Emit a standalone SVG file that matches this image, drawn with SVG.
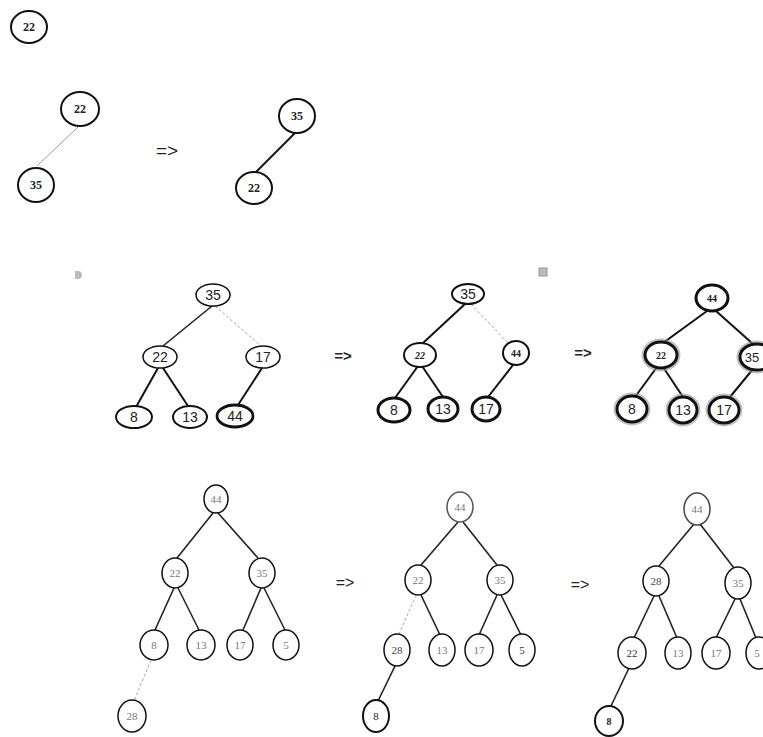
<svg xmlns="http://www.w3.org/2000/svg" width="763" height="737" viewBox="0 0 763 737">
<style>
.n{fill:#fff;stroke:#111;stroke-width:2}
.n15{fill:#fff;stroke:#111;stroke-width:1.5}
.n3{fill:#fff;stroke:#111;stroke-width:3}
.halo{fill:none;stroke:#999;stroke-width:7;opacity:0.6}
.e{stroke:#111;stroke-width:2;fill:none}
.e15{stroke:#222;stroke-width:1.6;fill:none}
.ef{stroke:#999;stroke-width:1;fill:none}
.ed{stroke:#aaa;stroke-width:1;fill:none;stroke-dasharray:3 2}
.ts{font-family:"Liberation Serif",serif;font-size:12px;font-weight:bold;fill:#222;text-anchor:middle;dominant-baseline:central}
.tm{font-family:"Liberation Sans",sans-serif;font-size:14px;fill:#222;text-anchor:middle;dominant-baseline:central}
.tb{font-family:"Liberation Serif",serif;font-size:10px;font-weight:bold;fill:#222;text-anchor:middle;dominant-baseline:central}
.tf{font-family:"Liberation Serif",serif;font-size:11px;fill:#777;text-anchor:middle;dominant-baseline:central}
.ar{font-family:"Liberation Sans",sans-serif;font-size:17px;font-weight:bold;fill:#222;text-anchor:middle;dominant-baseline:central}
</style>

<!-- artifacts -->
<path d="M75 271 h3 a4 4 0 0 1 0 8 h-3 z" fill="#bbb"/>
<rect x="539" y="268" width="8" height="8" fill="#bbb" stroke="#999" stroke-width="1"/>

<g id="connectors">
  <!-- top -->
  <line class="ef" x1="78" y1="127" x2="37" y2="166"/>
  <line class="e" x1="295" y1="133" x2="256" y2="172"/>
  <!-- middle tree 1 -->
  <line class="e15" x1="212" y1="306" x2="163" y2="346"/>
  <line class="ed" x1="215" y1="306" x2="261" y2="346"/>
  <line class="e" x1="158" y1="368" x2="136" y2="407"/>
  <line class="e" x1="163" y1="368" x2="188" y2="406"/>
  <line class="e" x1="262" y1="368" x2="238" y2="405"/>
  <!-- middle tree 2 -->
  <line class="e" x1="465" y1="304" x2="423" y2="343"/>
  <line class="ed" x1="471" y1="304" x2="507" y2="342"/>
  <line class="e" x1="418" y1="366" x2="395" y2="398"/>
  <line class="e" x1="422" y1="366" x2="443" y2="397"/>
  <line class="e" x1="513" y1="365" x2="488" y2="397"/>
  <!-- middle tree 3 -->
  <line class="e" x1="707" y1="311" x2="663" y2="343"/>
  <line class="e" x1="716" y1="311" x2="753" y2="344"/>
  <line class="e" x1="657" y1="367" x2="635" y2="397"/>
  <line class="e" x1="663" y1="367" x2="683" y2="397"/>
  <line class="e" x1="753" y1="369" x2="730" y2="397"/>
  <!-- bottom tree 1 -->
  <line class="e15" x1="213" y1="513" x2="177" y2="558"/>
  <line class="e15" x1="218" y1="513" x2="258" y2="558"/>
  <line class="e15" x1="174" y1="588" x2="155" y2="630"/>
  <line class="e15" x1="178" y1="588" x2="199" y2="630"/>
  <line class="e15" x1="261" y1="588" x2="243" y2="630"/>
  <line class="e15" x1="264" y1="588" x2="285" y2="630"/>
  <line class="ed" x1="151" y1="660" x2="134" y2="701"/>
  <!-- bottom tree 2 -->
  <line class="e15" x1="458" y1="522" x2="421" y2="565"/>
  <line class="e15" x1="463" y1="522" x2="497" y2="565"/>
  <line class="ed" x1="416" y1="595" x2="399" y2="634"/>
  <line class="e15" x1="421" y1="595" x2="440" y2="635"/>
  <line class="e15" x1="497" y1="595" x2="479" y2="635"/>
  <line class="e15" x1="501" y1="595" x2="521" y2="635"/>
  <line class="e15" x1="395" y1="666" x2="378" y2="701"/>
  <!-- bottom tree 3 -->
  <line class="e15" x1="694" y1="524" x2="659" y2="566"/>
  <line class="e15" x1="700" y1="524" x2="734" y2="568"/>
  <line class="e15" x1="654" y1="596" x2="634" y2="638"/>
  <line class="e15" x1="659" y1="596" x2="677" y2="638"/>
  <line class="e15" x1="735" y1="599" x2="716" y2="638"/>
  <line class="e15" x1="740" y1="599" x2="756" y2="638"/>
  <line class="e15" x1="629" y1="668" x2="611" y2="706"/>
</g>

<!-- arrows => -->
<text class="ar" x="167" y="150" style="font-size:19px;font-weight:normal">=&gt;</text>
<text class="ar" x="343" y="355" style="font-size:15px">=&gt;</text>
<text class="ar" x="583" y="352" style="font-size:15px">=&gt;</text>
<text class="ar" x="345" y="582" style="font-size:16px;font-weight:normal">=&gt;</text>
<text class="ar" x="580" y="584" style="font-size:16px;font-weight:normal">=&gt;</text>

<!-- top nodes -->
<g id="t0-22"><ellipse class="n" cx="29" cy="27" rx="18" ry="16"/><text class="ts" x="29" y="27">22</text></g>
<g id="t1-22"><ellipse class="n" cx="80" cy="109" rx="19" ry="17"/><text class="ts" x="80" y="109">22</text></g>
<g id="t1-35"><ellipse class="n" cx="36" cy="185" rx="18" ry="17"/><text class="ts" x="36" y="185">35</text></g>
<g id="t2-35"><ellipse class="n" cx="297" cy="116" rx="18" ry="17"/><text class="ts" x="297" y="116">35</text></g>
<g id="t2-22"><ellipse class="n" cx="254" cy="188" rx="18" ry="16"/><text class="ts" x="254" y="188">22</text></g>

<!-- middle tree 1 -->
<g id="m1-35"><ellipse class="n15" cx="213" cy="295" rx="17" ry="11"/><text class="tm" x="213" y="295">35</text></g>
<g id="m1-22"><ellipse class="n15" cx="160" cy="357" rx="17" ry="11"/><text class="tm" x="160" y="357">22</text></g>
<g id="m1-17"><ellipse class="n15" cx="263" cy="357" rx="17" ry="11"/><text class="tm" x="263" y="357">17</text></g>
<g id="m1-8"><ellipse class="n" cx="134" cy="417" rx="18" ry="11"/><text class="tm" x="134" y="417">8</text></g>
<g id="m1-13"><ellipse class="n" cx="190" cy="417" rx="17" ry="11"/><text class="tm" x="190" y="417">13</text></g>
<g id="m1-44"><ellipse class="n" style="stroke-width:2.8" cx="235" cy="416" rx="18" ry="11"/><text class="tm" x="235" y="416">44</text></g>

<!-- middle tree 2 -->
<g id="m2-35"><ellipse class="n" cx="468" cy="294" rx="16" ry="10"/><text class="tm" x="468" y="294">35</text></g>
<g id="m2-22"><ellipse class="n" cx="420" cy="355" rx="16" ry="12"/><text class="tb" x="420" y="355" style="font-style:italic">22</text></g>
<g id="m2-44"><ellipse class="n" cx="516" cy="353" rx="13" ry="12"/><text class="tb" x="516" y="353">44</text></g>
<g id="m2-8"><ellipse class="n3" cx="394" cy="410" rx="16" ry="12"/><text class="tm" x="394" y="410">8</text></g>
<g id="m2-13"><ellipse class="n3" cx="443" cy="409" rx="15" ry="12"/><text class="tm" x="443" y="409">13</text></g>
<g id="m2-17"><ellipse class="n3" cx="486" cy="409" rx="14" ry="12"/><text class="tm" x="486" y="409">17</text></g>

<!-- middle tree 3 -->
<g id="m3-44"><ellipse class="n3" cx="712" cy="298" rx="16" ry="13"/><text class="tb" x="712" y="298">44</text></g>
<g id="m3-22"><ellipse class="halo" cx="661" cy="355" rx="16" ry="13"/><ellipse class="n3" cx="661" cy="355" rx="16" ry="13"/><text class="tb" x="661" y="355">22</text></g>
<g id="m3-35"><ellipse class="halo" cx="757" cy="357" rx="17" ry="13"/><ellipse class="n3" cx="757" cy="357" rx="17" ry="13"/><text class="tm" x="752" y="357" style="font-size:13px">35</text></g>
<g id="m3-8"><ellipse class="halo" cx="632" cy="409" rx="15" ry="13"/><ellipse class="n3" cx="632" cy="409" rx="15" ry="13"/><rect x="625" y="402" width="14" height="14" fill="#fff"/><text class="tm" x="632" y="409">8</text></g>
<g id="m3-13"><ellipse class="halo" cx="683" cy="410" rx="14" ry="13"/><ellipse class="n3" cx="683" cy="410" rx="14" ry="13"/><rect x="674" y="403" width="18" height="14" fill="#fff"/><text class="tm" x="683" y="410">13</text></g>
<g id="m3-17"><ellipse class="halo" cx="724" cy="410" rx="15" ry="13"/><ellipse class="n3" cx="724" cy="410" rx="15" ry="13"/><rect x="715" y="403" width="18" height="14" fill="#fff"/><text class="tm" x="724" y="410">17</text></g>

<!-- bottom tree 1 -->
<g id="b1-44"><ellipse class="n15" cx="216" cy="499" rx="12" ry="14"/><text class="tf" x="216" y="499">44</text></g>
<g id="b1-22"><ellipse class="n15" cx="175" cy="573" rx="13" ry="15"/><text class="tf" x="175" y="573">22</text></g>
<g id="b1-35"><ellipse class="n15" cx="262" cy="573" rx="13" ry="15"/><text class="tf" x="262" y="573">35</text></g>
<g id="b1-8"><ellipse class="n15" cx="154" cy="645" rx="14" ry="15"/><text class="tf" x="154" y="645">8</text></g>
<g id="b1-13"><ellipse class="n15" cx="201" cy="645" rx="14" ry="15"/><text class="tf" x="201" y="645">13</text></g>
<g id="b1-17"><ellipse class="n15" cx="240" cy="645" rx="13" ry="15"/><text class="tf" x="240" y="645">17</text></g>
<g id="b1-5"><ellipse class="n15" cx="286" cy="645" rx="13" ry="15"/><text class="tf" x="286" y="645">5</text></g>
<g id="b1-28"><ellipse class="n15" cx="132" cy="716" rx="14" ry="16"/><text class="tf" x="132" y="716">28</text></g>

<!-- bottom tree 2 -->
<g id="b2-44"><ellipse class="n15" cx="460" cy="507" rx="13" ry="15" style="stroke:#555"/><text class="tf" x="460" y="507">44</text></g>
<g id="b2-22"><ellipse class="n15" cx="418" cy="580" rx="13" ry="15"/><text class="tf" x="418" y="580">22</text></g>
<g id="b2-35"><ellipse class="n15" cx="500" cy="580" rx="13" ry="15"/><text class="tf" x="500" y="580">35</text></g>
<g id="b2-28"><ellipse class="n15" cx="397" cy="650" rx="13" ry="16"/><text class="tf" x="397" y="650" style="fill:#444">28</text></g>
<g id="b2-13"><ellipse class="n15" cx="442" cy="650" rx="13" ry="16"/><text class="tf" x="442" y="650">13</text></g>
<g id="b2-17"><ellipse class="n15" cx="479" cy="650" rx="14" ry="16"/><text class="tf" x="479" y="650">17</text></g>
<g id="b2-5"><ellipse class="n15" cx="522" cy="650" rx="13" ry="16"/><text class="tf" x="522" y="650" style="fill:#333">5</text></g>
<g id="b2-8"><ellipse class="n" cx="376" cy="716" rx="13" ry="16"/><text class="tf" x="376" y="716" style="fill:#222">8</text></g>

<!-- bottom tree 3 -->
<g id="b3-44"><ellipse class="n15" cx="697" cy="509" rx="13" ry="16" style="stroke:#444"/><text class="tf" x="697" y="509">44</text></g>
<g id="b3-28"><ellipse class="n15" cx="656" cy="581" rx="13" ry="15"/><text class="tf" x="656" y="581" style="fill:#444">28</text></g>
<g id="b3-35"><ellipse class="n15" cx="738" cy="583" rx="13" ry="16"/><text class="tf" x="738" y="583">35</text></g>
<g id="b3-22"><ellipse class="n15" cx="632" cy="653" rx="14" ry="16"/><text class="tf" x="632" y="653" style="fill:#333">22</text></g>
<g id="b3-13"><ellipse class="n15" cx="678" cy="653" rx="13" ry="16"/><text class="tf" x="678" y="653">13</text></g>
<g id="b3-17"><ellipse class="n15" cx="716" cy="653" rx="14" ry="16"/><text class="tf" x="716" y="653">17</text></g>
<g id="b3-5"><ellipse class="n15" cx="759" cy="653" rx="13" ry="16"/><text class="tf" x="757" y="653">5</text></g>
<g id="b3-8"><ellipse class="n" cx="609" cy="721" rx="14" ry="15"/><text class="tb" x="609" y="721">8</text></g>
</svg>
